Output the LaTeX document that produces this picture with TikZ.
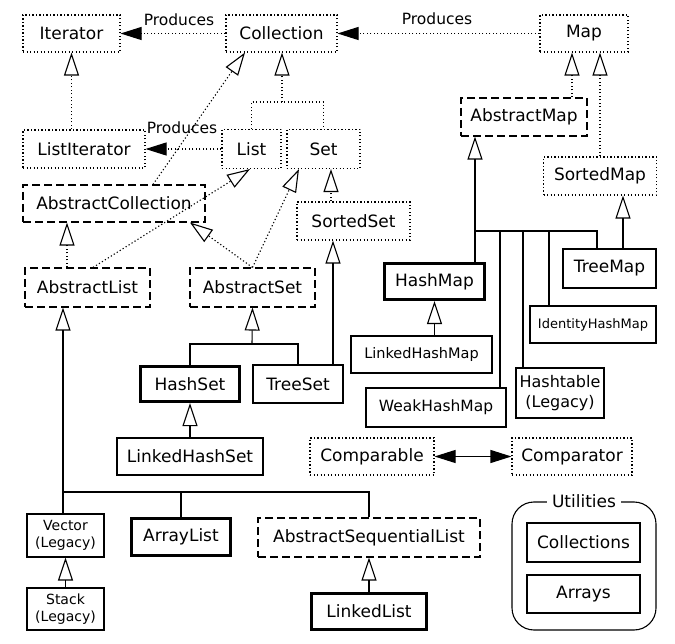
\documentclass[tikz,border=0pt]{standalone}
\usepackage{fontspec}
\setmainfont{DejaVu Sans}
\usetikzlibrary{arrows.meta}
\tikzset{ box/.style = { draw
                       , line width = 1.1pt
                       , inner sep  = 0pt
                       , align      = center
                       , font       = \fontsize{17}{20}\selectfont
                       },
          sz/.style 2 args = { minimum width  = #1pt
                             , minimum height = #2pt
                             },
          iface/.style = { box, dash pattern = on 1.2pt off 2.3pt },
          abst/.style  = { box, dash pattern = on 8pt off 4pt },
          impl/.style  = { box },
          core/.style  = { box, line width = 3.2pt },
          lbl/.style   = { inner sep = 1pt, font = \fontsize{15.5}{18}\selectfont },
          iline/.style = { line width = 1.1pt, dash pattern = on 1.2pt off 2.3pt },
          cline/.style = { line width = 1.1pt },
          gen/.style   = { arrows = {-Triangle[open, length=23pt, width=15pt]} },
          prod/.style  = { arrows = {-Triangle[length=21pt, width=13pt]} }
        }

\begin{document}
\begin{tikzpicture}
    [x=1pt, y=-1pt
    % ,every node/.style={fill=red!20}
    ]
    \useasboundingbox (0,0) rectangle (675,644);
    % interfaces
    \node[iface, sz={97}{37}]  (iter)  at (71.5,33.5)  {Iterator};
    \node[iface, sz={111}{37}] (coll)  at (281.5,33.5) {Collection};
    \node[iface, sz={88}{37}]  (map)   at (584,33.5)   {Map};
    \node[iface, sz={122}{38}] (litr)  at (84,149)     {ListIterator};
    \node[iface, sz={59}{39}]  (list)  at (251.5,149)  {List};
    \node[iface, sz={73}{39}]  (set)   at (323.5,149)  {Set};
    \node[iface, sz={113}{38}] (sset)  at (353.5,221)  {SortedSet};
    \node[iface, sz={113}{38}] (smap)  at (600,176)    {SortedMap};
    \node[iface, sz={124}{37}] (cmpbl) at (372,456.5)  {Comparable};
    \node[iface, sz={120}{37}] (cmptr) at (572,456.5)  {Comparator};
    % abstract classes
    \node[abst, sz={182}{37}]  (abcol)  at (114,203.5)  {AbstractCollection};
    \node[abst, sz={126}{38}]  (amap)   at (524,117)    {AbstractMap};
    \node[abst, sz={125}{39}]  (ablist) at (87.5,287.5) {AbstractList};
    \node[abst, sz={125}{39}]  (abset)  at (252.5,287.5) {AbstractSet};
    \node[abst, sz={222}{39}]  (asl)    at (369,537.5)  {AbstractSequentialList};
    % implementations
    \node[core, sz={100}{36}]  (hmap)  at (434.5,281.5) {HashMap};
    \node[impl, sz={93}{39}]   (tmap)  at (609.5,268.5) {TreeMap};
    \node[impl, sz={126}{37}, font=\fontsize{13}{15}\selectfont]
                               (idmap) at (593,324.5)   {IdentityHashMap};
    \node[impl, sz={141}{37}, font=\fontsize{14.5}{17}\selectfont]
                               (lhmap) at (421.5,354.5) {LinkedHashMap};
    \node[core, sz={99}{35}]   (hset)  at (190,384)     {HashSet};
    \node[impl, sz={90}{38}]   (tset)  at (298,384)     {TreeSet};
    \node[impl, sz={88}{50}, font=\fontsize{16}{20}\selectfont]
                               (htab)  at (560,393)     {Hashtable\\(Legacy)};
    \node[impl, sz={140}{39}, font=\fontsize{15.5}{18}\selectfont]
                               (wmap)  at (436,407.5)   {WeakHashMap};
    \node[impl, sz={146}{37}]  (lhset) at (190,456.5)   {LinkedHashSet};
    \node[impl, sz={77}{43}, font=\fontsize{14}{17}\selectfont]
                               (vect)  at (65.5,535.5)  {Vector\\(Legacy)};
    \node[core, sz={99}{37}]   (alist) at (181,537)     {ArrayList};
    \node[impl, sz={77}{42}, font=\fontsize{14}{17}\selectfont]
                               (stack) at (65.5,609)    {Stack\\(Legacy)};
    \node[core, sz={115}{36}]  (llist) at (369,611.5)   {LinkedList};
    % utilities
    \node[draw, line width=1.1pt, rounded corners=22pt, sz={144}{128}]
                               (utils) at (584,566)     {};
    \node[fill=white, inner xsep=5pt, inner ysep=0pt, font=\fontsize{17}{20}\selectfont]
                               (utilt) at (utils.north) {Utilities};
    \node[impl, sz={113}{39}]  (colls) at (583.5,542.5) {Collections};
    \node[impl, sz={113}{38}]  (arrs)  at (583.5,594)   {Arrays};
    % produces
    \node[lbl] (prod1) at (179,20)  {Produces};
    \node[lbl] (prod2) at (437,19)  {Produces};
    \node[lbl] (prod3) at (182,128) {Produces};
    \draw[iline, prod] (coll.west) -- (iter.east);
    \draw[iline, prod] (map.west)  -- (coll.east);
    \draw[iline, prod] (list.west) -- (litr.east);
    % interface inheritance
    \coordinate (cfork) at (282,102);
    \draw[iline, gen] (litr.north -| iter) -- (iter.south);
    \draw[iline] (list.north) |- (cfork) -| (set.north);
    \draw[iline, gen] (cfork) -- (coll.south -| cfork);
    \draw[iline, gen] (sset.north -| 331,0) -- (set.south -| 331,0);
    \draw[iline, gen] (amap.north -| 572,0) -- (map.south -| 572,0);
    \draw[iline, gen] (smap.north) -- (map.south -| smap.north);
    \draw[iline, gen] (abcol.north -| 153,0) -- (coll.south -| 245,0);
    \draw[iline, gen] (ablist.north -| 93,0) -- (list.south -| 250,0);
    \draw[iline, gen] (ablist.north -| 67,0) -- (abcol.south -| 67,0);
    \draw[iline, gen] (abset.north) -- (abcol.south -| 190,0);
    \draw[iline, gen] (abset.north) -- (set.south -| 299,0);
    % sets
    \coordinate (sfork) at (252,344);
    \draw[cline, gen] (sfork) -- (abset.south);
    \draw[cline] (hset.north) |- (sfork) -| (tset.north);
    \draw[cline, gen] (tset.north -| 333,0) -- (sset.south -| 333,0);
    \draw[cline, gen] (lhset.north) -- (hset.south);
    % lists
    \coordinate (lfork) at (63,492);
    \draw[cline, gen] (lfork) -- (ablist.south -| lfork);
    \draw[cline] (vect.north -| lfork) -- (lfork) -- (lfork -| asl.north) -- (asl.north);
    \draw[cline] (alist.north) -- (lfork -| alist.north);
    \draw[cline, gen] (stack.north) -- (vect.south);
    \draw[cline, gen] (llist.north) -- (asl.south);
    % maps
    \coordinate (mfork) at (475,231);
    \coordinate (mend)  at (597,231);
    \draw[cline, gen] (mfork) -- (amap.south -| mfork);
    \draw[cline] (hmap.north -| mfork) -- (mfork) -- (mend) -- (tmap.north -| mend);
    \draw[cline] (wmap.north -| 500,0)  -- (mfork -| 500,0);
    \draw[cline] (htab.north -| 523,0)  -- (mfork -| 523,0);
    \draw[cline] (idmap.north -| 549,0) -- (mfork -| 549,0);
    \draw[cline, gen] (lhmap.north -| hmap) -- (hmap.south);
    \draw[cline, gen] (tmap.north -| 623,0) -- (smap.south -| 623,0);
    % comparison
    \draw[cline, arrows = {Triangle[length=21pt, width=13pt]-Triangle[length=21pt, width=13pt]}]
        (cmpbl.east) -- (cmptr.west);
\end{tikzpicture}
\end{document}
